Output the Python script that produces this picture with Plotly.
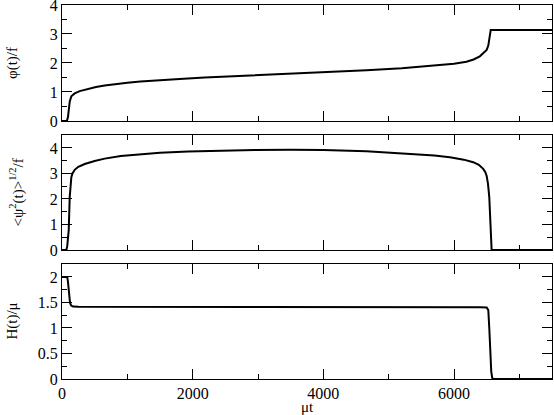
import plotly.graph_objects as go
from plotly.subplots import make_subplots

# phi(t)/f
t_phi = [0, 75, 92, 105, 118, 143, 194, 271, 398, 520, 654, 800, 1000, 1200, 1420,
         1800, 2185, 2950, 3716, 4200, 4660, 5200, 5680, 6000, 6190, 6300, 6395,
         6450, 6500, 6525, 6540, 6555, 6562, 7500]
phi = [0, 0, 0.14, 0.45, 0.66, 0.85, 0.95, 1.03, 1.11, 1.17, 1.22, 1.27, 1.32, 1.36, 1.40,
       1.45, 1.50, 1.57, 1.64, 1.69, 1.75, 1.82, 1.90, 1.97, 2.04, 2.12, 2.23,
       2.33, 2.45, 2.60, 2.79, 3.05, 3.14, 3.14]

# <psi^2(t)>^(1/2)/f
t_psi = [0, 67, 80, 95, 103, 118, 130, 143, 160, 194, 250, 347, 500, 654, 900,
         1164, 1500, 1930, 2500, 2950, 3500, 4000, 4660, 5100, 5427, 5700, 5937,
         6150, 6294, 6380, 6447, 6480, 6500, 6520, 6540, 6560, 6576, 7500]
psi = [0, 0, 0.15, 0.5, 0.78, 2.07, 2.6, 2.85, 3.0, 3.14, 3.26, 3.37, 3.49, 3.58, 3.68,
       3.75, 3.81, 3.86, 3.90, 3.92, 3.93, 3.92, 3.87, 3.81, 3.76, 3.70, 3.63,
       3.54, 3.44, 3.34, 3.18, 3.05, 2.90, 2.60, 2.07, 0.78, 0, 0]

# H(t)/mu
t_h = [0, 80, 90, 103, 115, 123, 140, 170, 250, 1000, 3000, 5000, 6000, 6400,
       6500, 6525, 6540, 6555, 6570, 6585, 6600, 7500]
h = [2.0, 2.0, 1.92, 1.69, 1.55, 1.49, 1.44, 1.42, 1.415, 1.415, 1.415, 1.415, 1.41,
     1.405, 1.40, 1.35, 1.0, 0.5, 0.15, 0.02, 0, 0]

y_titles = ["φ(t)/f", "&lt;ψ<sup>2</sup>(t)&gt;<sup>1/2</sup>/f", "H(t)/μ"]

family = "Liberation Serif, Times New Roman, serif"
tick_font = dict(family=family, size=16, color="black")
title_font = dict(family=family, size=15, color="black")

fig = make_subplots(rows=3, cols=1, shared_xaxes=True)
for i, (x, y) in enumerate([(t_phi, phi), (t_psi, psi), (t_h, h)], start=1):
    fig.add_trace(go.Scatter(x=x, y=y, mode="lines",
                             line=dict(color="black", width=2)), row=i, col=1)

axis_style = dict(showline=True, linecolor="black", linewidth=1, mirror="allticks",
                  ticks="inside", ticklen=10, tickcolor="black", showgrid=False,
                  zeroline=False, tickfont=tick_font, automargin=False,
                  ticklabeloverflow="allow")

fig.update_xaxes(range=[0, 7500], dtick=2000, tick0=0,
                 minor=dict(dtick=1000, ticks="inside", ticklen=5, tickcolor="black"),
                 **axis_style)

fig.update_yaxes(range=[0, 4], dtick=1,
                 minor=dict(dtick=0.5, ticks="inside", ticklen=5, tickcolor="black"),
                 domain=[0.690, 1.0], row=1, col=1, **axis_style)
fig.update_yaxes(range=[0, 4.5], dtick=1,
                 minor=dict(dtick=0.5, ticks="inside", ticklen=5, tickcolor="black"),
                 domain=[0.345, 0.652], row=2, col=1, **axis_style)
fig.update_yaxes(range=[0, 2.25], dtick=0.5,
                 minor=dict(dtick=0.25, ticks="inside", ticklen=5, tickcolor="black"),
                 domain=[0.0, 0.307], row=3, col=1, **axis_style)

# y titles as rotated annotations, centred on each panel
for i, (txt, shift) in enumerate(zip(y_titles, [-49, -45, -49]), start=1):
    yref = "y domain" if i == 1 else f"y{i} domain"
    fig.add_annotation(text=txt, textangle=-90, x=0, y=0.5, xref="paper", yref=yref,
                       xanchor="center", yanchor="middle", xshift=shift,
                       showarrow=False, font=title_font)

fig.add_annotation(text="μt", x=0.5, y=0, xref="paper", yref="paper",
                   yanchor="top", yshift=-18, showarrow=False, font=title_font)

fig.update_layout(width=554, height=415, showlegend=False,
                  margin=dict(l=62, r=2, t=5, b=36),
                  paper_bgcolor="white", plot_bgcolor="white", font=title_font)

# drop the page's default body margin so the figure sits at the window corner
fig.write_html("out.html", config={"displayModeBar": False},
               post_script="document.body.style.margin='0';")
